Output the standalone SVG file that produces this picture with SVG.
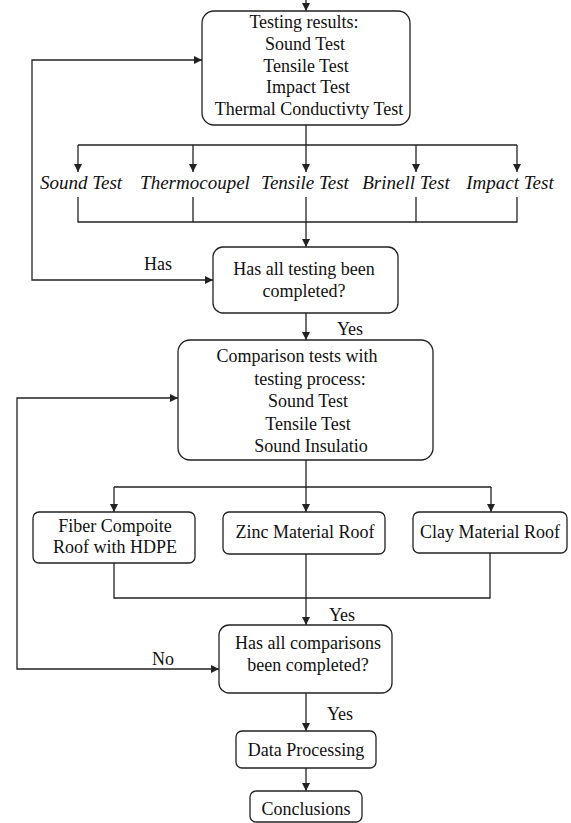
<svg xmlns="http://www.w3.org/2000/svg" width="571" height="823" viewBox="0 0 571 823">
<style>
.box{fill:#fff;stroke:#222;stroke-width:1.3}
.ln{fill:none;stroke:#222;stroke-width:1.3}
.t{font-family:"Liberation Serif","Times New Roman",serif;font-size:18px;fill:#111;text-anchor:middle}
.i{font-style:italic;font-size:19px}
</style>
<defs>
<marker id="ah" viewBox="0 0 8 8" refX="8" refY="4" markerWidth="8" markerHeight="8" markerUnits="userSpaceOnUse" orient="auto">
<path d="M0,0 L8,4 L0,8 z" fill="#222"/>
</marker>
</defs>
<rect width="571" height="823" fill="#fff"/>
<g id="connectors">
<path class="ln" d="M306,0 V11" marker-end="url(#ah)"/>
<path class="ln" d="M306,125 V145 M78,145 H517"/>
<path class="ln" d="M78,145 V172" marker-end="url(#ah)"/>
<path class="ln" d="M193,145 V172" marker-end="url(#ah)"/>
<path class="ln" d="M306,145 V172" marker-end="url(#ah)"/>
<path class="ln" d="M416,145 V172" marker-end="url(#ah)"/>
<path class="ln" d="M517,145 V172" marker-end="url(#ah)"/>
<path class="ln" d="M78,197 V222 H517 V197 M193,197 V222 M416,197 V222"/>
<path class="ln" d="M306,197 V247" marker-end="url(#ah)"/>
<path class="ln" d="M32,170 V60 H202" marker-end="url(#ah)"/>
<path class="ln" d="M32,170 V280 H213" marker-end="url(#ah)"/>
<path class="ln" d="M306,313 V340" marker-end="url(#ah)"/>
<path class="ln" d="M17,530 V398 H178" marker-end="url(#ah)"/>
<path class="ln" d="M17,530 V669 H219" marker-end="url(#ah)"/>
<path class="ln" d="M306,460 V487 M114,487 H491"/>
<path class="ln" d="M114,487 V512" marker-end="url(#ah)"/>
<path class="ln" d="M306,487 V512" marker-end="url(#ah)"/>
<path class="ln" d="M491,487 V512" marker-end="url(#ah)"/>
<path class="ln" d="M114,563 V598 H490 V553"/>
<path class="ln" d="M306,554 V625" marker-end="url(#ah)"/>
<path class="ln" d="M306,693 V731" marker-end="url(#ah)"/>
<path class="ln" d="M306,768 V791" marker-end="url(#ah)"/>
<text class="t" x="158" y="270">Has</text>
<text class="t" x="350" y="335">Yes</text>
<text class="t" x="163" y="665">No</text>
<text class="t" x="342" y="621">Yes</text>
<text class="t" x="340" y="720">Yes</text>
</g>
<g id="testing-results">
<rect class="box" x="202" y="11" width="208" height="114" rx="12"/>
<text class="t" x="304" y="28">Testing results:</text>
<text class="t" x="305" y="50">Sound Test</text>
<text class="t" x="306" y="72">Tensile Test</text>
<text class="t" x="308" y="93">Impact Test</text>
<text class="t" x="309" y="115">Thermal Conductivty Test</text>
</g>
<g id="sound-test"><text class="t i" x="81" y="189">Sound Test</text></g>
<g id="thermocoupel"><text class="t i" x="195" y="189">Thermocoupel</text></g>
<g id="tensile-test"><text class="t i" x="305" y="189">Tensile Test</text></g>
<g id="brinell-test"><text class="t i" x="406" y="189">Brinell Test</text></g>
<g id="impact-test"><text class="t i" x="510" y="189">Impact Test</text></g>
<g id="decision-testing">
<rect class="box" x="213" y="247" width="185" height="66" rx="10"/>
<text class="t" x="304" y="275">Has all testing been</text>
<text class="t" x="304" y="297">completed?</text>
</g>
<g id="comparison">
<rect class="box" x="178" y="340" width="255" height="120" rx="12"/>
<text class="t" x="297" y="362">Comparison tests with</text>
<text class="t" x="310" y="385">testing process:</text>
<text class="t" x="308" y="407">Sound Test</text>
<text class="t" x="308" y="430">Tensile Test</text>
<text class="t" x="311" y="452">Sound Insulatio</text>
</g>
<g id="fiber">
<rect class="box" x="33" y="512" width="162" height="51" rx="6"/>
<text class="t" x="115" y="532">Fiber Compoite</text>
<text class="t" x="115" y="553">Roof with HDPE</text>
</g>
<g id="zinc">
<rect class="box" x="223" y="512" width="162" height="42" rx="6"/>
<text class="t" x="305" y="538">Zinc Material Roof</text>
</g>
<g id="clay">
<rect class="box" x="413" y="512" width="154" height="41" rx="6"/>
<text class="t" x="490" y="538">Clay Material Roof</text>
</g>
<g id="decision-comparisons">
<rect class="box" x="219" y="625" width="173" height="68" rx="10"/>
<text class="t" x="308" y="649">Has all comparisons</text>
<text class="t" x="308" y="671">been completed?</text>
</g>
<g id="data-processing">
<rect class="box" x="236" y="731" width="140" height="37" rx="6"/>
<text class="t" x="306" y="756">Data Processing</text>
</g>
<g id="conclusions">
<rect class="box" x="250" y="791" width="112" height="31" rx="6"/>
<text class="t" x="306" y="815">Conclusions</text>
</g>
</svg>
